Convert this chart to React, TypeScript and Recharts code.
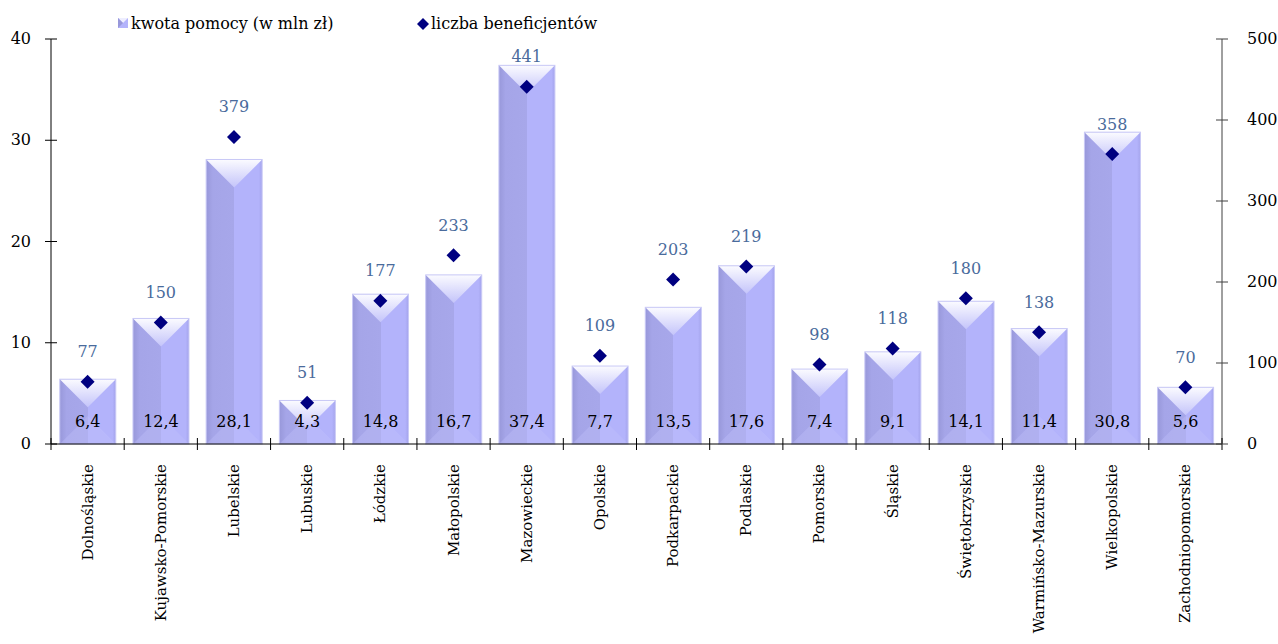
import { ComposedChart, Bar, Scatter, XAxis, YAxis, LabelList } from 'recharts';

const regions = [
  'Dolnośląskie', 'Kujawsko-Pomorskie', 'Lubelskie', 'Lubuskie', 'Łódzkie', 'Małopolskie',
  'Mazowieckie', 'Opolskie', 'Podkarpackie', 'Podlaskie', 'Pomorskie', 'Śląskie',
  'Świętokrzyskie', 'Warmińsko-Mazurskie', 'Wielkopolskie', 'Zachodniopomorskie',
];
const kwota = [6.4, 12.4, 28.1, 4.3, 14.8, 16.7, 37.4, 7.7, 13.5, 17.6, 7.4, 9.1, 14.1, 11.4, 30.8, 5.6];
const beneficjenci = [77, 150, 379, 51, 177, 233, 441, 109, 203, 219, 98, 118, 180, 138, 358, 70];
const leftTicks = [0, 10, 20, 30, 40];
const rightTicks = [0, 100, 200, 300, 400, 500];

const data = regions.map((name, i) => ({ name, kwota: kwota[i], beneficjenci: beneficjenci[i] }));

const W = 1278;
const H = 644;
const LEFT = 51;
const RIGHT = 56;
const TOP = 39;
const XH = 200;
const band = (W - LEFT - RIGHT) / regions.length;
const font = '"DejaVu Serif", serif';
const fs = 16;

const BevelBar = (props: any) => {
  const { x, y, width: w, height: h, index } = props;
  if (!h || h <= 0) return null;
  const d = Math.min(w / 2, h);
  const id = `g${index}`;
  const b = y + h;
  return (
    <g>
      <defs>
        <linearGradient id={`${id}h`} x1="0" y1="0" x2="1" y2="0">
          <stop offset="0%" stopColor="#9898da" />
          <stop offset="12%" stopColor="#a5a5e8" />
          <stop offset="50%" stopColor="#a7a7ea" />
          <stop offset="50%" stopColor="#b3b3fb" />
          <stop offset="94%" stopColor="#b3b3fb" />
          <stop offset="100%" stopColor="#a4a4ec" />
        </linearGradient>
        <linearGradient id={`${id}t`} x1="0" y1="0" x2="0" y2="1">
          <stop offset="0%" stopColor="#fbfbff" />
          <stop offset="100%" stopColor="#c4c4fa" />
        </linearGradient>
      </defs>
      <rect x={x} y={y} width={w} height={h} fill={`url(#${id}h)`} />
      <polygon points={`${x},${b} ${x + w / 2},${b - Math.min(d, h)} ${x + w},${b}`} fill="#c2c2fb" opacity={0.35} />
      <polygon points={`${x},${y} ${x + w},${y} ${x + w / 2},${y + d}`} fill={`url(#${id}t)`} />
      <rect x={x} y={y} width={w} height={h} fill="none" stroke="#c9c9f6" strokeWidth={1} />
    </g>
  );
};

const Diamond = (props: any) => {
  const { cx, cy } = props;
  const r = 7;
  return <polygon points={`${cx},${cy - r} ${cx + r},${cy} ${cx},${cy + r} ${cx - r},${cy}`} fill="#000080" />;
};

const LeftTick = (props: any) => {
  const { x, y, payload } = props;
  return (
    <g>
      <line x1={LEFT - 6} x2={LEFT + 6} y1={y} y2={y} stroke="#000" />
      <text x={x - 12} y={y} dy={5} textAnchor="end" fontSize={fs} fontFamily={font} fill="#000">{payload.value}</text>
    </g>
  );
};

const RightTick = (props: any) => {
  const { x, y, payload } = props;
  return (
    <g>
      <line x1={W - RIGHT - 6} x2={W - RIGHT + 6} y1={y} y2={y} stroke="#404040" />
      <text x={x + 17} y={y} dy={5} textAnchor="start" fontSize={fs} fontFamily={font} fill="#000">{payload.value}</text>
    </g>
  );
};

const CatTick = (props: any) => {
  const { x, payload, index } = props;
  const yb = H - XH;
  return (
    <g>
      <line x1={x - band / 2} x2={x - band / 2} y1={yb - 6} y2={yb + 6} stroke="#000" />
      {index === regions.length - 1 && (
        <line x1={x + band / 2} x2={x + band / 2} y1={yb - 6} y2={yb + 6} stroke="#000" />
      )}
      <text transform={`translate(${x + 5},${yb + 20}) rotate(-90)`} textAnchor="end" fontSize={15} fontFamily={font} fill="#000">
        {payload.value}
      </text>
    </g>
  );
};

const BarValue = (props: any) => {
  const { x, y, width, height, value } = props;
  return (
    <text x={x + width / 2} y={y + height - 22} dy={5} textAnchor="middle" fontSize={fs} fontFamily={font} fill="#000">
      {Number(value).toFixed(1).replace('.', ',')}
    </text>
  );
};

const LegendBox = () => (
  <div style={{ position: 'absolute', left: 0, top: 0, width: W, height: 34, fontFamily: font, fontSize: fs, color: '#000' }}>
    <svg width={12} height={12} style={{ position: 'absolute', left: 118, top: 18 }}>
      <rect x={0} y={0} width={10} height={10} fill="#b3b3fb" />
      <polygon points="0,0 10,0 5,5" fill="#eeeeff" />
      <polygon points="0,0 5,5 0,10" fill="#9898da" />
    </svg>
    <span style={{ position: 'absolute', left: 131, top: 14, whiteSpace: 'nowrap' }}>kwota pomocy (w mln zł)</span>
    <svg width={14} height={14} style={{ position: 'absolute', left: 416, top: 17 }}>
      <polygon points="7,1 13,7 7,13 1,7" fill="#000080" />
    </svg>
    <span style={{ position: 'absolute', left: 431, top: 14, whiteSpace: 'nowrap' }}>liczba beneficjentów</span>
  </div>
);

export default function App() {
  return (
    <div style={{ position: 'absolute', left: 0, top: 0, width: W, height: H, background: '#fff' }}>
      <ComposedChart width={W} height={H} data={data} margin={{ top: TOP, right: 0, bottom: 0, left: 0 }} barCategoryGap="12%">
        <XAxis dataKey="name" height={XH} interval={0} tickLine={false} tick={<CatTick />} axisLine={{ stroke: '#000' }} />
        <YAxis yAxisId="left" width={LEFT} domain={[0, 40]} ticks={leftTicks} tickLine={false} tick={<LeftTick />} axisLine={{ stroke: '#000' }} />
        <YAxis yAxisId="right" orientation="right" width={RIGHT} domain={[0, 500]} ticks={rightTicks} tickLine={false} tick={<RightTick />} axisLine={{ stroke: '#404040' }} />
        <Bar yAxisId="left" dataKey="kwota" shape={<BevelBar />} isAnimationActive={false}>
          <LabelList dataKey="kwota" content={<BarValue />} />
        </Bar>
        <Scatter yAxisId="right" dataKey="beneficjenci" shape={<Diamond />} isAnimationActive={false}>
          <LabelList dataKey="beneficjenci" position="top" offset={20} fill="#4a6b9c" fontSize={fs} fontFamily={font} />
        </Scatter>
      </ComposedChart>
      <LegendBox />
    </div>
  );
}
